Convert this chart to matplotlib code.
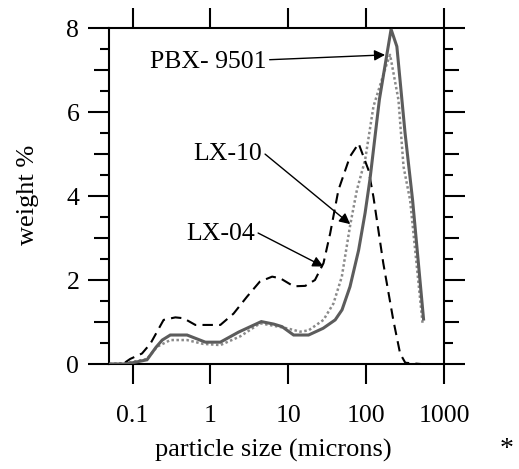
import matplotlib
matplotlib.use("Agg")
import matplotlib.pyplot as plt
import numpy as np

plt.rcParams['font.family'] = ['Liberation Serif', 'DejaVu Serif']

# PBX-9501 (solid)
pbx_x = [0.05, 0.08, 0.1, 0.153, 0.2, 0.24, 0.305, 0.5, 0.86, 1.34, 2.3, 4.5, 6.5, 8.3,
         11.7, 18.2, 28, 40, 49, 62, 80, 97, 112, 148, 209, 248, 316, 395, 546]
pbx_y = [0.0, 0.0, 0.03, 0.1, 0.4, 0.57, 0.69, 0.69, 0.52, 0.52, 0.76, 1.01, 0.95, 0.89,
         0.69, 0.69, 0.85, 1.05, 1.29, 1.84, 2.71, 3.6, 4.4, 6.3, 7.97, 7.56, 5.5, 3.9, 1.07]

# LX-10 (dotted)
lx10_x = [0.05, 0.076, 0.1, 0.153, 0.206, 0.305, 0.5, 0.8, 1.34, 2.42, 4.35, 6.46, 9.6,
          14.2, 18.2, 28.3, 38, 48.7, 62.4, 76, 97, 124, 185, 203, 260, 302, 367, 530]
lx10_y = [0.0, 0.02, 0.05, 0.12, 0.41, 0.57, 0.57, 0.48, 0.45, 0.66, 0.97, 0.91, 0.85,
          0.77, 0.8, 1.05, 1.44, 2.08, 3.31, 4.14, 4.86, 6.13, 7.16, 7.36, 6.29, 4.7, 3.9, 0.98]

# LX-04 (dashed)
lx04_x = [0.05, 0.075, 0.093, 0.132, 0.17, 0.25, 0.354, 0.45, 0.64, 1.34, 1.98, 2.94,
          4.3, 6.2, 7.9, 11.7, 16.5, 22, 28.3, 34.5, 44, 62, 80, 107, 124, 166, 223, 273,
          318, 500]
lx04_y = [0.0, 0.0, 0.12, 0.25, 0.49, 1.05, 1.11, 1.09, 0.93, 0.93, 1.2, 1.6, 1.96, 2.08,
          2.04, 1.85, 1.86, 2.0, 2.4, 3.11, 4.14, 4.94, 5.25, 4.62, 3.98, 2.4, 1.05, 0.25,
          0.03, 0.0]

xticks = [0.1, 1, 10, 100, 1000]
xticklabels = ["0.1", "1", "10", "100", "1000"]
yticks_major = [0, 1, 2, 3, 4, 5, 6, 7, 8]
yticklabels = ["0", "", "2", "", "4", "", "6", "", "8"]

W, H = 519, 469
fig = plt.figure(figsize=(W / 100, H / 100), dpi=100)
ax = fig.add_axes([108.5 / W, 1 - 364 / H, (444 - 108.5) / W, (364 - 28) / H])

ax.plot(pbx_x, pbx_y, color='#5c5c5c', lw=2.2, solid_joinstyle='miter', zorder=3)
ax.plot(lx10_x, lx10_y, color='#8a8a8a', lw=1.8, linestyle=(0, (1, 1)), zorder=2)
ax.plot(lx04_x, lx04_y, color='black', lw=1.5, linestyle=(0, (5, 3)), zorder=2)

ax.set_xscale('log')
ax.set_xlim(0.049, 1000)
ax.set_ylim(0, 8)
ax.set_xticks(xticks)
ax.set_xticklabels(xticklabels)
ax.xaxis.set_minor_locator(matplotlib.ticker.NullLocator())
ax.set_yticks(yticks_major)
ax.set_yticklabels(yticklabels)
ax.set_yticks(np.arange(0.5, 8, 1), minor=True)

for s in ax.spines.values():
    s.set_linewidth(1.5)

ax.tick_params(axis='x', which='major', direction='out', length=14.5, width=1.5,
               top=True, bottom=True, labeltop=False, labelsize=18.5, pad=15)
ax.tick_params(axis='y', which='major', direction='out', length=15, width=1.5,
               left=True, right=True, labelright=False, labelsize=18.5, pad=6)
ax.tick_params(axis='y', which='minor', direction='out', length=6.5, width=1.5,
               left=True, right=True)

for v, t in zip(ax.get_yticks(), ax.yaxis.get_major_ticks()):
    if int(round(v)) % 2 == 1:
        t.tick1line.set_markersize(11)
        t.tick2line.set_markersize(11)

ap = dict(arrowstyle='-|>', lw=1, color='black', mutation_scale=16,
          shrinkA=0, shrinkB=0)
ax.annotate("PBX- 9501", xy=(175, 7.36), xytext=(5.3, 7.19), fontsize=18.5,
            ha='right', va='center',
            arrowprops=dict(ap, relpos=(1, 0.6)))
ax.annotate("LX-10", xy=(62.4, 3.33), xytext=(4.63, 5.0), fontsize=18.5,
            ha='right', va='center',
            arrowprops=dict(ap, relpos=(1, 0.6)))
ax.annotate("LX-04", xy=(28.3, 2.32), xytext=(3.77, 3.1), fontsize=18.5,
            ha='right', va='center',
            arrowprops=dict(ap, relpos=(1, 0.6)))

fig.text(273.5 / W, 1 - 457 / H, "particle size (microns)", fontsize=19,
         ha='center', va='baseline')
fig.text(507 / W, 1 - 456 / H, "*", fontsize=20, ha='center', va='baseline')
fig.text(28 / W, 1 - 195 / H, "weight %", fontsize=19, rotation=90,
         ha='center', va='center')

fig.savefig("out.png", dpi=100)
